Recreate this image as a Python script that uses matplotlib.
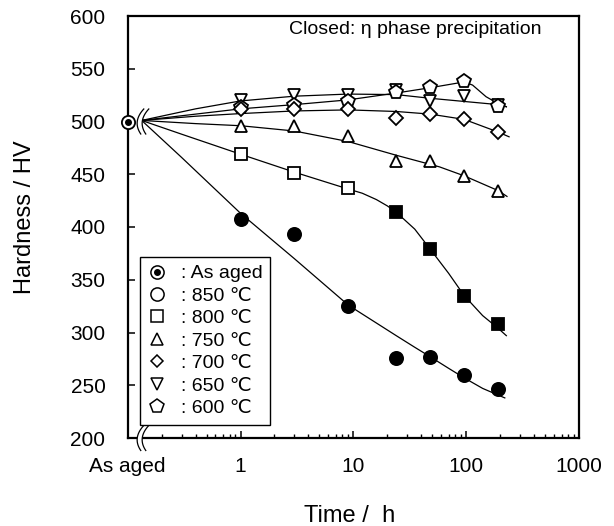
import numpy as np
import matplotlib
matplotlib.use('Agg')
import matplotlib.pyplot as plt
from matplotlib.lines import Line2D
from matplotlib.patches import Polygon
from matplotlib.transforms import IdentityTransform
from matplotlib.ticker import LogLocator, NullFormatter

plt.rcParams['font.family'] = ['Liberation Sans', 'DejaVu Sans']

# measured hardness (HV) after holding at temperature
times = [1, 3, 9, 24, 48, 96, 192]
as_aged_hv = 500
hv_850 = [408, 393, 325, 276, 277, 260, 246]
hv_800 = [469, 451, 437, 414, 379, 335, 308]
closed_800 = [False, False, False, True, True, True, True]
hv_750 = [496, 496, 486, 463, 463, 448, 434]
hv_700 = [512, 512, 512, 503, 507, 502, 490]
hv_650 = [520, 525, 525, 530, 519, 524, 516]
hv_600 = [514, 516, 519, 528, 533, 538, 515]

# trend lines
fit_850_t = [0.133, 0.3, 1, 3, 9, 16, 24, 35, 48, 70, 96, 140, 220]
fit_850 = [501, 466, 413, 370, 326, 309, 297, 286, 277, 266, 257, 247, 238]
fit_800_t = [0.133, 0.3, 1, 3, 9, 12, 16, 20, 24, 35, 48, 70, 96, 140, 192, 227]
fit_800 = [501, 488, 469, 452, 436, 432, 426, 420, 414, 398, 379, 356, 335, 316, 304, 297]
fit_750_t = [0.133, 0.4, 1, 3, 9, 24, 58, 96, 192, 230]
fit_750 = [501, 498, 496, 491, 481, 468, 457, 448.5, 434.5, 429]
fit_700_t = [0.133, 0.4, 1, 3, 9, 24, 48, 96, 192, 240]
fit_700 = [501, 505, 507.5, 510, 511, 509.5, 507, 502, 490, 485.5]
fit_650_t = [0.133, 0.4, 1, 3, 9, 24, 48, 96, 192, 227]
fit_650 = [501, 512, 519.5, 524, 526, 525.5, 522, 519, 516, 514]
fit_600_t = [0.133, 0.4, 1, 3, 9, 24, 48, 96, 114, 150, 192, 227]
fit_600 = [501, 507, 512, 516, 520.5, 527, 532, 537.5, 534.5, 523.5, 517, 514]

W, H = 614, 526
fig = plt.figure(figsize=(W / 100, H / 100), dpi=100)
ax = fig.add_axes([127.7 / W, (H - 438) / H, (579 - 127.7) / W, (438 - 16) / H])
ax.set_xscale('log')
ax.set_xlim(0.1, 1000)
ax.set_ylim(200, 600)

ms = 9.5
mew = 1.3
line_kw = dict(color='k', lw=0.9, zorder=2)
for t, v in [(fit_850_t, fit_850), (fit_800_t, fit_800), (fit_750_t, fit_750),
             (fit_700_t, fit_700), (fit_650_t, fit_650), (fit_600_t, fit_600)]:
    ax.plot(t, v, **line_kw)

def pts(vals, marker, size, filled=None):
    for i, (t, v) in enumerate(zip(times, vals)):
        fc = 'k' if (filled is not None and filled[i]) else 'white'
        ax.plot(t, v, ls='none', marker=marker, ms=size, mfc=fc, mec='k', mew=mew, zorder=3)

pts(hv_650, 'v', 9)
pts(hv_600, 'p', 10)
pts(hv_700, 'D', 6.8)
pts(hv_750, '^', 9)
pts(hv_800, 's', 9, closed_800)
pts(hv_850, 'o', ms, [True] * len(times))

# as-aged point on the axis
ax.plot(0.1, as_aged_hv, marker='o', ms=ms, mfc='white', mec='k', mew=mew, clip_on=False, zorder=6)
ax.plot(0.1, as_aged_hv, marker='o', ms=4, mfc='k', mec='k', clip_on=False, zorder=7)

# axis styling
for sp in ax.spines.values():
    sp.set_linewidth(1.6)
ax.set_yticks(np.arange(200, 601, 50))
ax.set_xticks([0.1, 1, 10, 100, 1000])
ax.set_xticklabels(['As aged', '1', '10', '100', '1000'])
ax.xaxis.set_minor_locator(LogLocator(base=10, subs=np.arange(2, 10)))
ax.xaxis.set_minor_formatter(NullFormatter())
ax.tick_params(axis='both', which='major', direction='in', length=5, width=1.1, labelsize=15)
ax.tick_params(axis='x', which='major', pad=14)
ax.tick_params(axis='y', which='major', pad=16)
ax.tick_params(axis='x', which='minor', direction='in', length=3, width=1.0)

fig.text(350 / W, 1 - 522 / H, 'Time /  h', ha='center', va='baseline', fontsize=17)
fig.text(25 / W, 1 - 217 / H, 'Hardness / HV', ha='center', va='center', rotation=90, fontsize=17)

ax.text(0.916, 0.967, 'Closed: η phase precipitation', transform=ax.transAxes,
        ha='right', va='center', fontsize=14)

# legend
def open_mk(marker, size):
    return Line2D([], [], ls='none', marker=marker, ms=size, mfc='white', mec='k', mew=1.1)

handles = [(open_mk('o', 9.5), Line2D([], [], ls='none', marker='o', ms=4, mfc='k', mec='k')),
           open_mk('o', 9.5), open_mk('s', 9), open_mk('^', 9), open_mk('D', 6.6),
           open_mk('v', 9), open_mk('p', 10)]
labels = [': As aged', ': 850 ℃', ': 800 ℃', ': 750 ℃', ': 700 ℃', ': 650 ℃', ': 600 ℃']
leg = ax.legend(handles, labels, loc='lower left', bbox_to_anchor=(0.027, 0.031),
                frameon=True, fancybox=False, edgecolor='k', framealpha=1, fontsize=14,
                handlelength=1.0, handletextpad=0.7, labelspacing=0.25, borderpad=0.4,
                borderaxespad=0)
leg.get_frame().set_linewidth(1.0)
leg.set_zorder(8)

# axis break marks
def squiggle(xd, yd):
    cx, cy = ax.transData.transform((xd, yd))
    s = np.linspace(-1, 1, 40)
    x1 = cx - 5.5 + 5 * s ** 2 + 1.5 * s
    y1 = cy + 12.5 * s
    x2 = x1 + 5
    poly = np.column_stack([np.r_[x1, x2[::-1]], np.r_[y1, y1[::-1]]])
    ax.add_patch(Polygon(poly, closed=True, fc='white', ec='none',
                         transform=IdentityTransform(), clip_on=False, zorder=5))
    for xx in (x1, x2):
        ax.add_line(Line2D(xx, y1, color='k', lw=0.9, transform=IdentityTransform(),
                           clip_on=False, zorder=6))

squiggle(0.136, 500)
squiggle(0.136, 200)

fig.savefig('out.png', dpi=100)
